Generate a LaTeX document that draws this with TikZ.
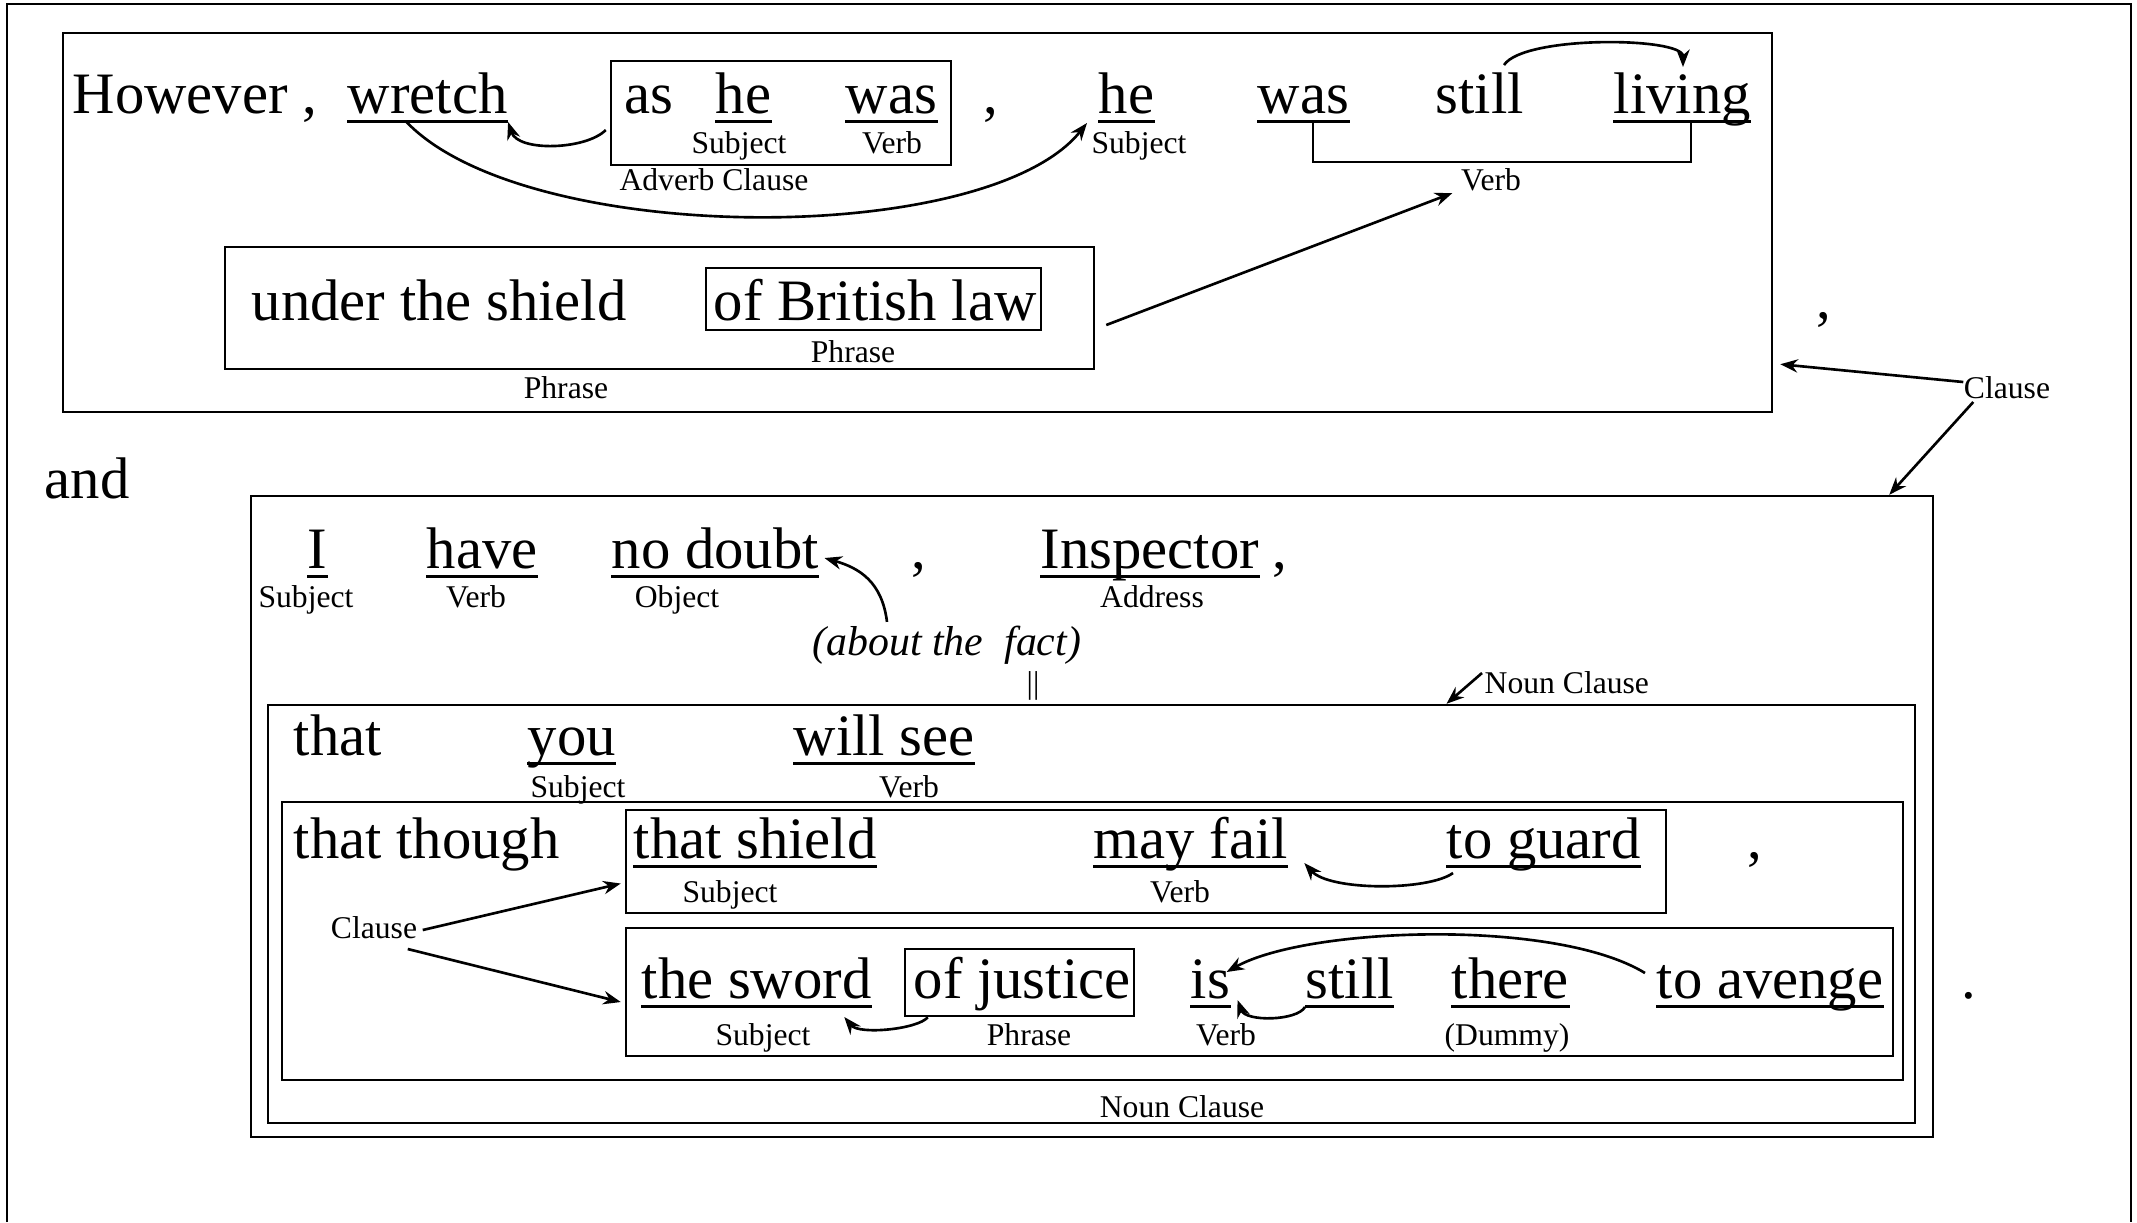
\documentclass[tikz,border=0pt]{standalone}
\usepackage{fontspec}
\setmainfont{Liberation Serif}
\usetikzlibrary{arrows.meta,positioning,calc,fit}
\newcommand\wordfont{\fontsize{16.7}{20}\selectfont}
\newcommand\tagfont{\fontsize{9}{11}\selectfont}
\newcommand\notefont{\fontsize{11.9}{14}\selectfont\itshape}
\tikzset{
  word/.style  = {font=\wordfont, inner sep=0pt, anchor=base west},
  uline/.style = {line width=0.9pt},
  uword/.style = {word, append after command={
                   ([yshift=-2.3pt]\tikzlastnode.base west) edge[uline]
                   ([yshift=-2.3pt]\tikzlastnode.base east)}},
  tag/.style   = {font=\tagfont, inner sep=0pt, anchor=base},
  note/.style  = {font=\notefont, inner sep=0pt, anchor=base west},
  box/.style   = {draw, line width=0.7pt, inner sep=0pt},
  conn/.style  = {-{Stealth[length=5pt,width=3.8pt]}, line width=0.75pt},
  bracket/.style = {line width=0.6pt},
  frame/.style = {line width=0.6pt}
}

\begin{document}
\begin{tikzpicture}[x=0.1mm,y=-0.1mm]
\useasboundingbox (0,0) rectangle (2137,1222);
\draw[frame] (7,1222) |- (2131,4) -- (2131,1222);

% --- first clause ---
\node[box, fit={(63,33) (1772,412)}] (clauseA) {};
\node[box, fit={(611,61) (951,165)}] (advbox) {};
\node[word]  (however) at (72,113)   {However ,};
\node[uword] (wretch)  at (347,113)  {wretch};
\node[word]  (as)      at (624,113)  {as};
\node[uword] (heA)     at (715,113)  {he};
\node[uword] (wasA)    at (845,113)  {was};
\node[word]  (commaA)  at (983,113)  {,};
\node[uword] (heB)     at (1098,113) {he};
\node[uword] (wasB)    at (1257,113) {was};
\node[word]  (stillA)  at (1435,113) {still};
\node[uword] (living)  at (1613,113) {living};

\node[tag] (subjA)  at (739,153)  {Subject};
\node[tag] (verbA)  at (892,153)  {Verb};
\node[tag] (subjB)  at (1139,153) {Subject};
\node[tag] (advlbl) at (714,190)  {Adverb Clause};
\node[tag] (verbB)  at (1491,190) {Verb};

% was ... living bracket
\draw[bracket] ($(wasB.base)+(10,8)$) |- ($(living.base)+(9,49)$) -- ++(0,-41);

% --- phrase ---
\node[box, fit={(225,247) (1094,369)}] (phraseA) {};
\node[box, fit={(706,268) (1041,330)}] (phraseB) {};
\node[word] (under)   at (251,320) {under the shield};
\node[word] (british) at (713,320) {of British law};
\node[tag]  (phrB)    at (853,362) {Phrase};
\node[tag]  (phrA)    at (566,398) {Phrase};

\node[word] (commaB)  at (1816,318) {,};
\node[tag]  (clauseR) at (2007,398) {Clause};
\node[word] (and)     at (44,498)   {and};

% --- second clause ---
\node[box, fit={(251,496) (1933,1137)}] (clauseB) {};
\node[box, fit={(268,705) (1915,1123)}] (nounA) {};
\node[box, fit={(282,802) (1903,1080)}] (nounB) {};
\node[box, fit={(626,810) (1666,913)}]  (shieldbox) {};
\node[box, fit={(626,928) (1893,1056)}] (swordbox) {};
\node[box, fit={(905,949) (1134,1016)}] (justbox) {};

\node[uword] (I)         at (307,568)  {I};
\node[uword] (have)      at (426,568)  {have};
\node[uword] (nodoubt)   at (611,568)  {no doubt};
\node[word]  (commaC)    at (911,568)  {,};
\node[uword] (inspector) at (1040,568) {Inspector};
\node[word]  (commaD)    at (1272,568) {,};

\node[tag] (subjC) at (306,607)  {Subject};
\node[tag] (verbC) at (476,607)  {Verb};
\node[tag] (objC)  at (677,607)  {Object};
\node[tag] (addr)  at (1152,607) {Address};

\node[note] (about) at (812,655) {(about the\ \ fact)};
\node[tag, anchor=center] (bars) at (1033,686) {||};
\node[tag, anchor=base west] (nclblA) at (1484,693) {Noun Clause};

% that you will see
\node[word]  (that)    at (293,755) {that};
\node[uword] (you)     at (527,755) {you};
\node[uword] (willsee) at (793,755) {will see};
\node[tag] (subjD) at (578,797) {Subject};
\node[tag] (verbD) at (909,797) {Verb};

% that though ...
\node[word]  (though)     at (293,858)  {that though};
\node[uword] (thatshield) at (633,858)  {that shield};
\node[uword] (mayfail)    at (1093,858) {may fail};
\node[uword] (toguard)    at (1446,858) {to guard};
\node[word]  (commaE)     at (1747,858) {,};
\node[tag] (subjE) at (730,902)  {Subject};
\node[tag] (verbE) at (1180,902) {Verb};
\node[tag] (clauseL) at (374,938) {Clause};

\node[uword] (thesword)  at (641,998)  {the sword};
\node[word]  (ofjustice) at (913,998)  {of justice};
\node[uword] (is)        at (1190,998) {is};
\node[uword] (stillB)    at (1305,998) {still};
\node[uword] (there)     at (1451,998) {there};
\node[uword] (toavenge)  at (1656,998) {to avenge};
\node[word]  (period)    at (1961,998) {.};
\node[tag] (subjF)  at (763,1045)  {Subject};
\node[tag] (phrF)   at (1029,1045) {Phrase};
\node[tag] (verbF)  at (1226,1045) {Verb};
\node[tag] (dummy)  at (1507,1045) {(Dummy)};
\node[tag] (nclblB) at (1182,1117) {Noun Clause};

% --- connections ---
\draw[conn] ($(advbox.west)+(-4,17)$) .. controls +(-20,20) and +(10,30) .. ($(wretch.base east)+(0,9)$);
\draw[conn] ($(wretch.base)+(-21,9)$) .. controls +(120,125) and +(-100,125) .. ($(heB.base west)+(-11,10)$);
\draw[conn] ($(stillA.base west)+(69,-48)$) .. controls +(20,-30) and +(0,-30) .. ($(living.base west)+(70,-46)$);
\draw[conn] ($(phraseA.east)+(11,17)$) -- ($(verbB.base west)+(-8,3)$);
\draw[conn] ($(clauseR.base west)+(0,-16)$) -- ($(clauseA.south east)+(7,-49)$);
\draw[conn] ($(clauseR.base west)+(10,4)$) -- ($(clauseB.north east)+(-45,0)$);
\draw[conn] ($(about.north west)+(75,-3)$) .. controls +(-5,-40) and +(35,10) .. ($(nodoubt.base east)+(5,-10)$);
\draw[conn] ($(nclblA.base west)+(-2,-20)$) -- ($(nounA.north)+(355,0)$);
\draw[conn] ($(toguard.base west)+(7,15)$) .. controls +(-25,18) and +(25,28) .. ($(mayfail.base east)+(16,5)$);
\draw[conn] ($(clauseL.base east)+(5,-8)$) -- ($(shieldbox.west)+(-4,22)$);
\draw[conn] ($(clauseL.base east)+(-10,11)$) -- ($(swordbox.west)+(-4,10)$);
\draw[conn] ($(justbox.south west)+(24,0)$) .. controls +(-10,12) and +(15,18) .. ($(thesword.base east)+(-28,19)$);
\draw[conn] ($(stillB.base west)+(0,9)$) .. controls +(-8,14) and +(8,22) .. ($(is.base east)+(7,2)$);
\draw[conn] ($(toavenge.base west)+(-11,-25)$) .. controls +(-90,-55) and +(80,-45) .. ($(is.base east)+(-4,-26)$);

\end{tikzpicture}
\end{document}
